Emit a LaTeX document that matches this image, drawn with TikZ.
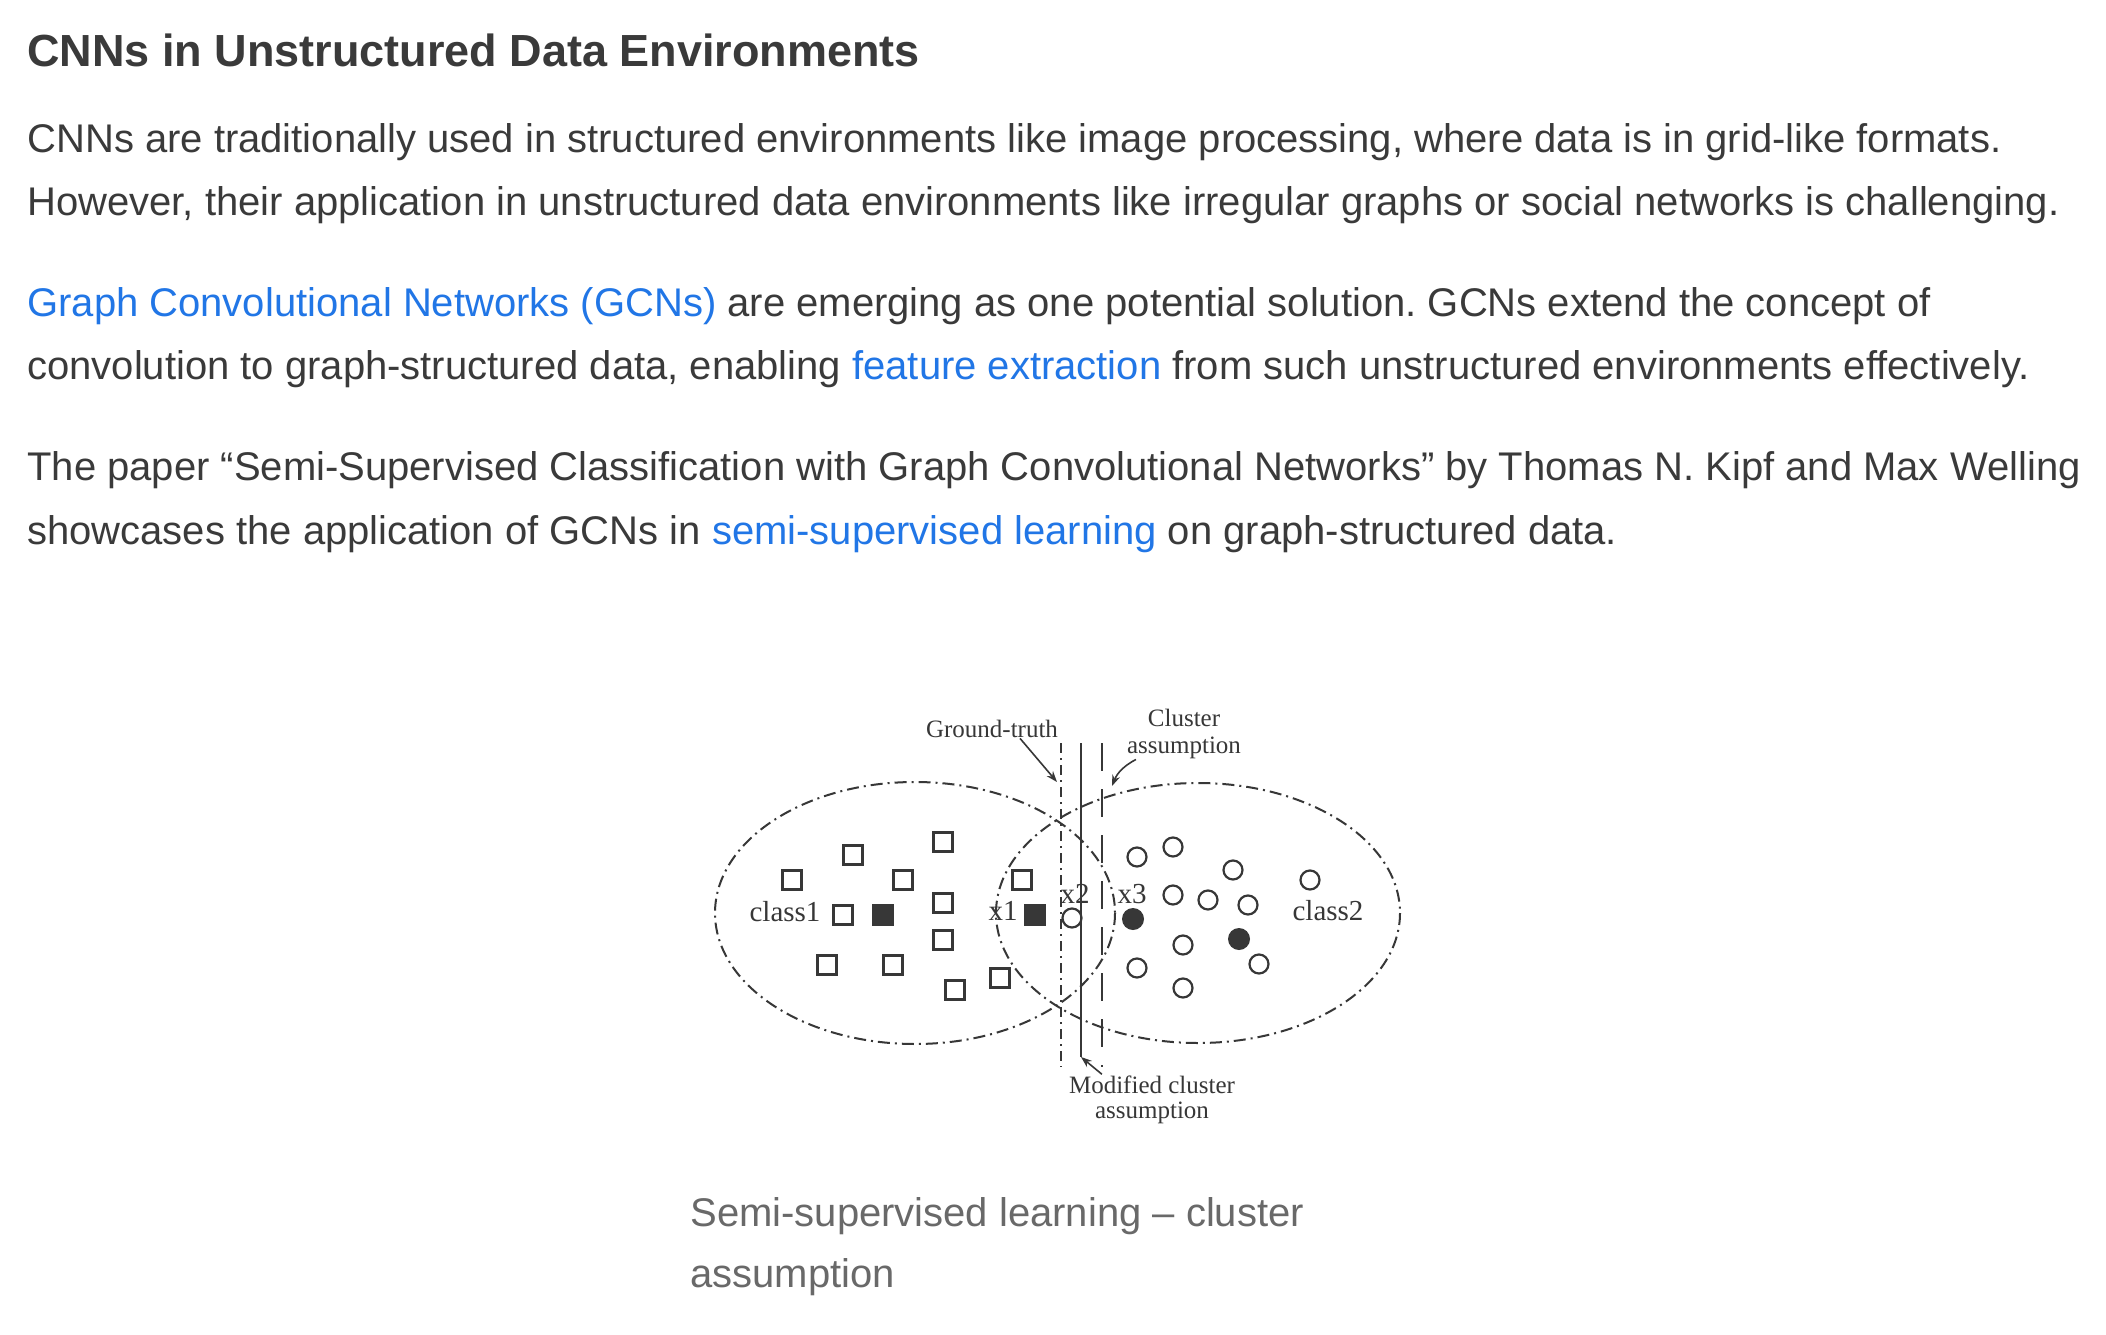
\documentclass[tikz,border=0pt]{standalone}
\usepackage{fontspec}
\setmainfont{Liberation Sans}
\newfontfamily\figserif{Liberation Serif}
\usetikzlibrary{arrows.meta}
\frenchspacing

\definecolor{bodytext}{RGB}{58,58,58}
\definecolor{linkblue}{RGB}{33,118,230}
\definecolor{captext}{RGB}{105,105,105}
\definecolor{figline}{RGB}{55,55,55}

\tikzset{every picture/.style={line width=0.75pt}}
\tikzset{
  webhead/.style={anchor=base west, inner sep=0pt, text=bodytext, font=\fontsize{45}{54}\selectfont\bfseries},
  webline/.style={anchor=base west, inner sep=0pt, text=bodytext, font=\fontsize{40}{48}\selectfont},
  capline/.style={anchor=base west, inner sep=0pt, text=captext, font=\fontsize{40}{48}\selectfont},
  notelabel/.style={anchor=base, inner sep=0.75pt, text=figline, font=\figserif\fontsize{25}{26}\selectfont},
  classlabel/.style={anchor=base, inner sep=0.75pt, text=figline, font=\figserif\fontsize{29}{30}\selectfont},
  clusterline/.style={draw=figline, line width=2pt, dash pattern=on 12pt off 5pt on 2pt off 5pt},
  truthline/.style={draw=figline, line width=2pt, dash pattern=on 10pt off 5pt on 2pt off 5pt},
  sqopen/.style={draw=figline, line width=2.2pt},
  cropen/.style={draw=figline, line width=2.2pt},
  notearrow/.style={draw=figline, line width=1.6pt, -{Stealth[length=11pt,width=8pt]}}
}

\begin{document}
\begin{tikzpicture}[x=1pt,y=1pt,yscale=-1,xscale=1]
\useasboundingbox[fill=white] (0,0) rectangle (2106,1335);

% Text Node
\node[webhead] (head) at (27,67) {CNNs in Unstructured Data Environments};
% Text Node
\node[webline] (p1a) at (27,152) {CNNs are traditionally used in structured environments like image processing, where data is in grid-like formats.};
% Text Node
\node[webline] (p1b) at (27,215) {However, their application in unstructured data environments like irregular graphs or social networks is challenging.};
% Text Node
\node[webline] (p2a) at (27,316) {\textcolor{linkblue}{Graph Convolutional Networks (GCNs)} are emerging as one potential solution. GCNs extend the concept of};
% Text Node
\node[webline] (p2b) at (27,379) {convolution to graph-structured data, enabling \textcolor{linkblue}{feature extraction} from such unstructured environments effectively.};
% Text Node
\node[webline] (p3a) at (27,480) {The paper “Semi-Supervised Classification with Graph Convolutional Networks” by Thomas N. Kipf and Max Welling};
% Text Node
\node[webline] (p3b) at (27,544) {showcases the application of GCNs in \textcolor{linkblue}{semi-supervised learning} on graph-structured data.};

%Shape: Ellipse [class 1]
\draw [clusterline] (915,913) ellipse (200 and 131);
%Shape: Ellipse [class 2]
\draw [clusterline] (1198,913) ellipse (202 and 130);

%Straight Lines [ground-truth]
\draw [truthline] (1061,743) -- (1061,1067);
%Straight Lines [modified cluster assumption]
\coordinate (mcTip) at (1081,1057);
\draw [draw=figline, line width=2pt] (1081,743) -- (mcTip);
%Straight Lines [cluster assumption]
\draw [draw=figline, line width=2pt, dash pattern=on 28pt off 18pt] (1102,743) -- (1102,1067);

%Shape: Square [class 1]
\draw [sqopen] (943,842) +(-9.5,-9.5) rectangle +(9.5,9.5);
\draw [sqopen] (853,855) +(-9.5,-9.5) rectangle +(9.5,9.5);
\draw [sqopen] (792,880) +(-9.5,-9.5) rectangle +(9.5,9.5);
\draw [sqopen] (903,880) +(-9.5,-9.5) rectangle +(9.5,9.5);
\draw [sqopen] (1022,880) +(-9.5,-9.5) rectangle +(9.5,9.5);
\draw [sqopen] (843,915) +(-9.5,-9.5) rectangle +(9.5,9.5);
\draw [sqopen] (943,903) +(-9.5,-9.5) rectangle +(9.5,9.5);
\draw [sqopen] (943,940) +(-9.5,-9.5) rectangle +(9.5,9.5);
\draw [sqopen] (827,965) +(-9.5,-9.5) rectangle +(9.5,9.5);
\draw [sqopen] (893,965) +(-9.5,-9.5) rectangle +(9.5,9.5);
\draw [sqopen] (955,990) +(-9.5,-9.5) rectangle +(9.5,9.5);
\draw [sqopen] (1000,978) +(-9.5,-9.5) rectangle +(9.5,9.5);
%Shape: Square [class 1, labelled]
\fill [figline] (883,915) +(-11,-11) rectangle +(11,11);
\fill [figline] (1035,915) +(-11,-11) rectangle +(11,11);

%Shape: Circle [class 2]
\draw [cropen] (1137,857) circle (9.5);
\draw [cropen] (1173,847) circle (9.5);
\draw [cropen] (1233,870) circle (9.5);
\draw [cropen] (1310,880) circle (9.5);
\draw [cropen] (1173,895) circle (9.5);
\draw [cropen] (1208,900) circle (9.5);
\draw [cropen] (1248,905) circle (9.5);
\draw [cropen] (1183,945) circle (9.5);
\draw [cropen] (1137,968) circle (9.5);
\draw [cropen] (1259,964) circle (9.5);
\draw [cropen] (1183,988) circle (9.5);
\draw [cropen] (1072,918) circle (9.5);
%Shape: Circle [class 2, labelled]
\fill [figline] (1133,919) circle (11);
\fill [figline] (1239,939) circle (11);

% Text Node
\node[classlabel] (class1) at (785,921) {class1};
% Text Node
\node[classlabel] (class2) at (1328,920) {class2};
% Text Node
\node[classlabel] (x1) at (1003,920) {x1};
% Text Node
\node[classlabel] (x2) at (1075,903) {x2};
% Text Node
\node[classlabel] (x3) at (1132,903) {x3};

% Text Node
\node[notelabel] (gt) at (992,737) {Ground-truth};
\coordinate (gtTip) at (1057,782);
\draw [notearrow] ([xshift=28pt]gt.south) -- (gtTip);
% Text Node
\node[notelabel] (cl1) at (1184,726) {Cluster};
% Text Node
\node[notelabel] (cl2) at (1184,753) {assumption};
\coordinate (clTip) at (1112,786);
\draw [notearrow] ([xshift=10pt]cl2.south west) to[bend left=20] (clTip);
% Text Node
\node[notelabel] (md1) at (1152,1093) {Modified cluster};
% Text Node
\node[notelabel] (md2) at (1152,1118) {assumption};
\draw [notearrow] ([xshift=34pt]md1.north west) -- (mcTip);

% Text Node
\node[capline] (cap1) at (690,1226) {Semi-supervised learning – cluster};
% Text Node
\node[capline] (cap2) at (690,1287) {assumption};

\end{tikzpicture}
\end{document}
